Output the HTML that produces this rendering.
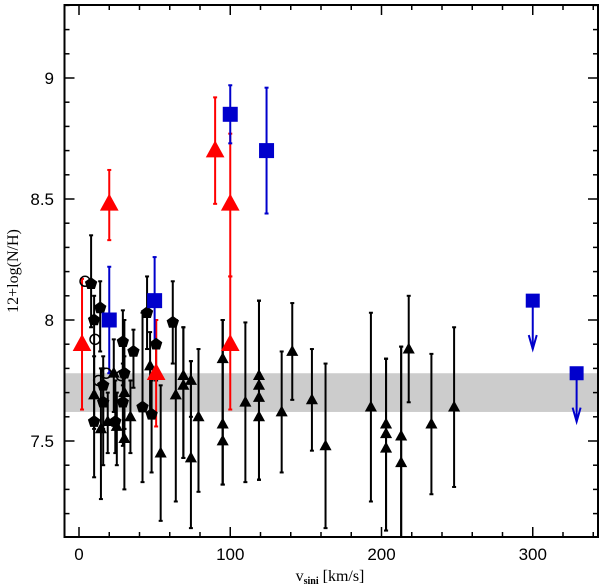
<!DOCTYPE html>
<html><head><meta charset="utf-8">
<style>
html,body{margin:0;padding:0;background:#fff;}
svg{display:block;}
.tk{font-family:"Liberation Sans",sans-serif;font-size:17px;fill:#000;}
.ttl{font-family:"Liberation Serif",serif;font-size:16px;fill:#000;}
</style></head>
<body>
<svg id="chart" width="600" height="586" viewBox="0 0 600 586" xmlns="http://www.w3.org/2000/svg">
<rect id="band" fill="#cccccc"/>
<g id="marks"></g>
<rect x="64.5" y="5" width="533.5" height="532" fill="none" stroke="#000" stroke-width="2"/>
<g id="ticks"></g>
<text class="ttl" transform="translate(18,271) rotate(-90)" text-anchor="middle">12+log(N/H)</text>
<text class="ttl" x="330" y="581" text-anchor="middle">v<tspan font-size="10" dy="3" font-weight="bold">sini</tspan><tspan dy="-3"> [km/s]</tspan></text>
</svg>
<script>
// Black triangles: velocity, value, error low, error high
const triV  = [10,14.5,19,23,25,30,30,34,47,54,64,69,69,74,74,79,95,95,95,110,119,119,119,119,134,141,154,163,193,203,203,203,213,213,218,233,248];
const triN  = [7.69,7.55,7.58,7.78,7.56,7.70,7.51,7.60,7.81,7.45,7.69,7.77,7.73,7.75,7.43,7.60,7.84,7.57,7.50,7.66,7.77,7.73,7.68,7.60,7.62,7.87,7.67,7.48,7.64,7.57,7.53,7.47,7.52,7.41,7.88,7.57,7.64];
const triLo = [7.55,7.26,7.45,7.62,7.40,7.55,7.30,7.45,7.62,7.17,7.25,7.43,7.43,7.60,7.14,7.29,7.32,7.32,7.32,7.33,7.34,7.34,7.34,7.34,7.37,7.67,7.46,7.14,7.25,7.13,7.13,7.13,7.05,7.05,7.66,7.28,7.31];
const triHi = [7.85,7.80,7.70,7.92,7.70,7.85,7.70,7.75,7.95,7.73,8.00,7.97,7.97,7.83,7.83,7.88,8.00,8.00,8.00,7.99,8.08,8.08,8.08,8.08,7.87,8.07,7.88,7.82,8.03,7.84,7.84,7.84,7.89,7.89,8.10,7.86,7.97];
// Black pentagons
const penV  = [8,14,10,29,36,45,51,62,30,16,16,29,42,48,10,24];
const penN  = [8.15,8.05,8.00,7.91,7.87,8.03,7.90,7.99,7.78,7.73,7.66,7.66,7.64,7.61,7.58,7.58];
const penLo = [7.97,7.87,7.70,7.73,7.72,7.88,7.75,7.82,7.55,7.55,7.40,7.48,7.33,7.37,7.35,7.45];
const penHi = [8.35,8.16,8.10,8.04,7.96,8.18,8.00,8.16,8.00,7.85,7.80,7.82,8.03,7.75,7.70,7.75];
// Open circles
const cirV = [4,10.6,13,18,28];
const cirN = [8.16,7.92,7.75,7.78,7.77];
// Red triangles
const redV  = [2,20,51,90,100,100];
const redN  = [7.90,8.48,7.78,8.70,8.48,7.90];
const redLo = [7.63,8.33,7.56,8.48,8.18,7.63];
const redHi = [8.17,8.62,8.00,8.92,8.77,8.18];
// Blue squares
const bluV  = [20,50,100,124];
const bluN  = [8.00,8.08,8.85,8.70];
const bluLo = [7.78,7.90,8.73,8.44];
const bluHi = [8.22,8.26,8.97,8.96];
// Blue upper limits
const limV = [300,329];
const limN = [8.08,7.78];
const limTo = [7.88,7.58];
// Band
const bandLo = 7.62, bandHi = 7.78;
// Ticks
const xMajor = [0,100,200,300];
const xLabels = ["0","100","200","300"];
const yMajor = [7.5,8,8.5,9];
const yLabels = ["7.5","8","8.5","9"];

const X = v => 79 + v*1.5125;
const Y = n => 320 - (n-8)*242;
const NS = "http://www.w3.org/2000/svg";
const marks = document.getElementById('marks');
const ticks = document.getElementById('ticks');
function mk(tag, attrs, parent){
  const e = document.createElementNS(NS, tag);
  for (const k in attrs) e.setAttribute(k, attrs[k]);
  parent.appendChild(e); return e;
}
const band = document.getElementById('band');
band.setAttribute('x', 64.5); band.setAttribute('width', 533.5);
band.setAttribute('y', Y(bandHi)); band.setAttribute('height', Y(bandLo)-Y(bandHi));

function errbar(v, lo, hi, color, name){
  const g = mk('g', {stroke: color, 'stroke-width': 2}, marks);
  
  
  const x = X(v), y1 = Math.min(Y(lo), 537), y2 = Y(hi);
  mk('line', {x1:x, x2:x, y1:y1, y2:y2}, g);
  if (Y(lo) < 537) mk('line', {x1:x-2, x2:x+2, y1:y1, y2:y1}, g);
  mk('line', {x1:x-2, x2:x+2, y1:y2, y2:y2}, g);
}
function tri(v, n, s, color, name){
  const x = X(v), y = Y(n);
  const p = mk('polygon', {points: `${x},${y-s*0.6} ${x-s*0.55},${y+s*0.4} ${x+s*0.55},${y+s*0.4}`, fill: color}, marks);
  
  
}
triV.forEach((v,i)=>errbar(v, triLo[i], triHi[i], '#000', 'black-triangle-errorbar'));
penV.forEach((v,i)=>errbar(v, penLo[i], penHi[i], '#000', 'black-pentagon-errorbar'));
redV.forEach((v,i)=>errbar(v, redLo[i], redHi[i], '#ff0000', 'red-triangle-errorbar'));
bluV.forEach((v,i)=>errbar(v, bluLo[i], bluHi[i], '#0000cc', 'blue-square-errorbar'));

triV.forEach((v,i)=>tri(v, triN[i], 11, '#000', 'black-triangle-point'));
penV.forEach((v,i)=>{
  const x = X(v), y = Y(penN[i]), r = 6.5;
  let pts = [];
  for (let k=0;k<5;k++){ const a = -Math.PI/2 + k*2*Math.PI/5; pts.push((x+r*Math.cos(a)).toFixed(1)+','+(y+r*Math.sin(a)).toFixed(1)); }
  const p = mk('polygon', {points: pts.join(' '), fill:'#000'}, marks);
  
  
});
cirV.forEach((v,i)=>{
  const c = mk('circle', {cx:X(v), cy:Y(cirN[i]), r:5, fill:'none', stroke:'#000', 'stroke-width':1.5}, marks);
  
  
});
redV.forEach((v,i)=>tri(v, redN[i], 17, '#ff0000', 'red-triangle-point'));
bluV.forEach((v,i)=>{
  const r = mk('rect', {x:X(v)-7.5, y:Y(bluN[i])-7.5, width:15, height:15, fill:'#0000cc'}, marks);
  
  
});
limV.forEach((v,i)=>{
  const x = X(v), y = Y(limN[i]), yt = Y(limTo[i]);
  const g = mk('g', {stroke:'#0000cc', 'stroke-width':2, fill:'none'}, marks);
  
  
  mk('line', {x1:x, x2:x, y1:y, y2:yt}, g);
  mk('polyline', {points:`${x-4},${yt-14} ${x},${yt} ${x+4},${yt-14}`}, g);
  const r = mk('rect', {x:x-7, y:y-7, width:14, height:14, fill:'#0000cc', stroke:'none'}, marks);
  
  
});
const tg = mk('g', {stroke:'#000', 'stroke-width':1.5}, ticks);
for (let v=0; v<=340; v+=20){
  const x = X(v), L = (v%100===0)?10:5;
  mk('line', {x1:x,x2:x,y1:537,y2:537-L}, tg);
  mk('line', {x1:x,x2:x,y1:5,y2:5+L}, tg);
}
for (let k=72; k<=93; k++){
  const n = k/10, y = Y(n), L = (k%5===0)?10:5;
  if (y<5||y>537) continue;
  mk('line', {x1:64.5,x2:64.5+L,y1:y,y2:y}, tg);
  mk('line', {x1:598,x2:598-L,y1:y,y2:y}, tg);
}
xMajor.forEach((v,i)=>{
  const t = mk('text', {x:X(v), y:560, 'text-anchor':'middle', class:'tk'}, ticks);
  t.textContent = xLabels[i];
  
  
});
yMajor.forEach((n,i)=>{
  const t = mk('text', {x:54, y:Y(n)+6, 'text-anchor':'end', class:'tk'}, ticks);
  t.textContent = yLabels[i];
  
  
});
</script>
</body></html>
